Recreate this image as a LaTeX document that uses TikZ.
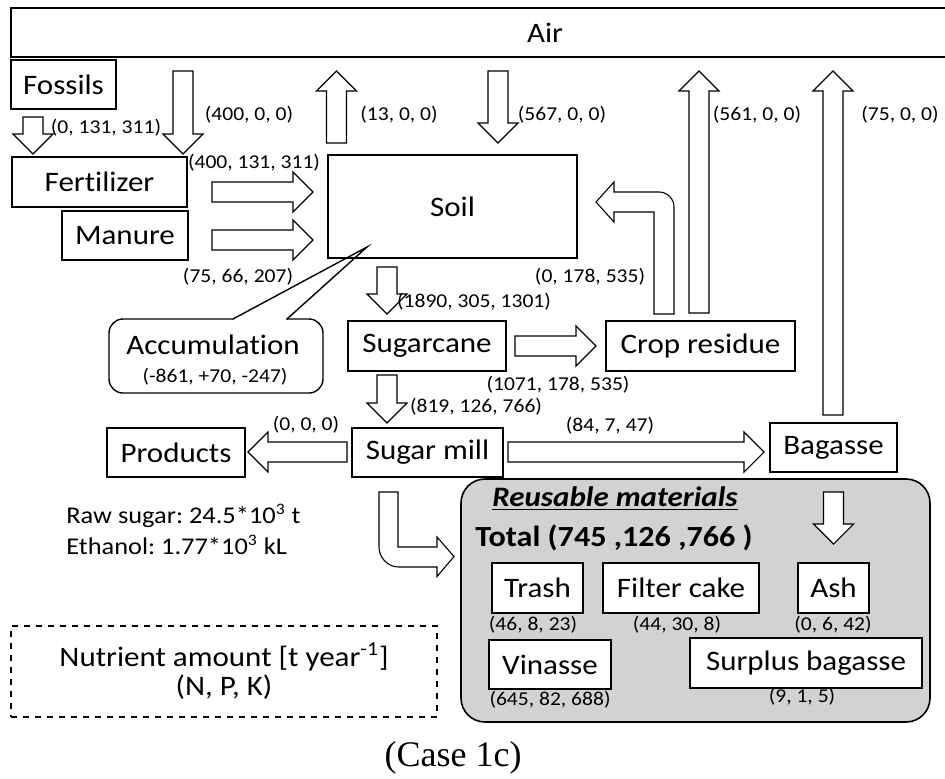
\documentclass[tikz,border=0pt]{standalone}
\usepackage{fontspec}
\setmainfont{Carlito}[FakeStretch=1.1, Ligatures=NoCommon]
\newfontfamily\capfont{Liberation Serif}
\usetikzlibrary{calc}
\frenchspacing

\definecolor{reusegray}{RGB}{210,210,210}
\newcommand{\mainsize}{\fontsize{14.1}{16}\selectfont}
\newcommand{\smallsize}{\fontsize{9.8}{11}\selectfont}

\tikzset{
  box/.style={draw, line width=0.7pt, inner sep=0pt, font=\mainsize},
  sz/.style 2 args={minimum width=#1*0.5pt, minimum height=#2*0.5pt},
  lbl/.style={inner sep=0pt, font=\smallsize},
  barrow/.style={draw, fill=white, line width=0.55pt, line join=miter},
}

% 空心箭头: 起点 -> 箭尖
\newcommand{\barrow}[2]{%
  \coordinate (bh) at ($(#2)!10pt!(#1)$);
  \draw[barrow] ($(#1)!5pt!90:(#2)$) -- ($(bh)!5pt!90:(#2)$) -- ($(bh)!10pt!90:(#2)$) -- (#2)
    -- ($(bh)!10pt!-90:(#2)$) -- ($(bh)!5pt!-90:(#2)$) -- ($(#1)!5pt!-90:(#2)$) -- cycle;}

\begin{document}
\begin{tikzpicture}[x=0.5pt, y=-0.5pt]
    \useasboundingbox (0,0) rectangle (945,778);
    \clip (0,0) rectangle (945,778);
    % 方框
    \node[box, sz={1068}{49}] (air) at (545,32.5) {Air};
    \node[box, sz={105}{49}] (fossils) at (63.5,84.5) {Fossils};
    \node[box, sz={175}{50}] (fert) at (99.5,182) {Fertilizer};
    \node[box, sz={126}{49}] (manure) at (125,235.5) {Manure};
    \node[box, sz={249}{103}] (soil) at (452.5,206.5) {Soil};
    \node[box, sz={158}{50}] (cane) at (427,346) {Sugarcane};
    \node[box, sz={189}{50}] (crop) at (700.5,346) {Crop residue};
    \node[box, sz={138}{49}] (products) at (176,452.5) {Products};
    \node[box, sz={151}{49}] (mill) at (427.5,452.5) {Sugar mill};
    \node[box, sz={127}{49}] (bagasse) at (833.5,447.5) {Bagasse};
    % 累积 (对话框)
    \node[box, rounded corners=7pt, sz={214}{74}] (acc) at (216,356) {};
    \node[inner sep=0pt, font=\mainsize] (acc-t) at (213,345) {Accumulation};
    \node[lbl] (acc-v) at (215,377) {(-861, +70, -247)};
    \coordinate (acc-tip) at (367,247);
    \fill[white] (234,317) rectangle (286,321);
    \draw[line width=0.7pt] (233,319) -- (acc-tip) -- (287,319);
    % 可再利用物质
    \node[box, line width=0.8pt, fill=reusegray, rounded corners=12pt, sz={469}{243}] (reuse) at (695.5,600.5) {};
    \node[inner sep=0pt, font=\fontsize{14.1}{16}\selectfont\bfseries\itshape] (reuse-t) at (615,499) {\underline{Reusable materials}};
    \node[inner sep=0pt, font=\fontsize{14.6}{16}\selectfont\bfseries] (total) at (614,538) {Total (745 ,126 ,766 )};
    \node[box, fill=white, sz={91}{50}] (trash) at (537.5,588) {Trash};
    \node[box, fill=white, sz={156}{50}] (filter) at (681,588) {Filter cake};
    \node[box, fill=white, sz={71}{50}] (ash) at (833.5,588) {Ash};
    \node[box, fill=white, sz={122}{49}] (vinasse) at (550,664.5) {Vinasse};
    \node[box, fill=white, sz={232}{50}] (surplus) at (806,663) {Surplus bagasse};
    \node[lbl] (l-trash) at (533,625) {(46, 8, 23)};
    \node[lbl] (l-filter) at (677,625) {(44, 30, 8)};
    \node[lbl] (l-ash) at (833,625) {(0, 6, 42)};
    \node[lbl] (l-vin) at (550,700) {(645, 82, 688)};
    \node[lbl] (l-sur) at (802,697) {(9, 1, 5)};
    % 箭头端点
    \coordinate (fos-s) at (33,117);    \coordinate (fos-t) at (33,154);
    \coordinate (af-s) at (183,71);     \coordinate (af-t) at (183,154);
    \coordinate (sa-s) at (336.5,143);  \coordinate (sa-t) at (336.5,71);
    \coordinate (as-s) at (498,71);     \coordinate (as-t) at (498,143);
    \coordinate (ca-s) at (699,313);    \coordinate (ca-t) at (699,71);
    \coordinate (ba-s) at (833,415);    \coordinate (ba-t) at (833,71);
    \coordinate (fs-s) at (212,192);    \coordinate (fs-t) at (313,192);
    \coordinate (ms-s) at (212,240);    \coordinate (ms-t) at (313,240);
    \coordinate (sc-s) at (387,267);    \coordinate (sc-t) at (387,314);
    \coordinate (cc-s) at (515,346);    \coordinate (cc-t) at (596,346);
    \coordinate (cm-s) at (387,375);    \coordinate (cm-t) at (387,423);
    \coordinate (mp-s) at (347,452);    \coordinate (mp-t) at (248,452);
    \coordinate (mb-s) at (508,452);    \coordinate (mb-t) at (764,452);
    \coordinate (bash-s) at (833.5,492); \coordinate (bash-t) at (833.5,544);
    % 箭头
    \barrow{fos-s}{fos-t}
    \barrow{af-s}{af-t}
    \barrow{sa-s}{sa-t}
    \barrow{as-s}{as-t}
    \barrow{ca-s}{ca-t}
    \barrow{ba-s}{ba-t}
    \barrow{fs-s}{fs-t}
    \barrow{ms-s}{ms-t}
    \barrow{sc-s}{sc-t}
    \barrow{cc-s}{cc-t}
    \barrow{cm-s}{cm-t}
    \barrow{mp-s}{mp-t}
    \barrow{mb-s}{mb-t}
    \barrow{bash-s}{bash-t}
    % 弯箭头
    \draw[barrow] (654,314) -- (654,212) -- (614,212) -- (614,222) -- (596,202) -- (614,182) -- (614,192)
      -- (659,192) .. controls (667.3,192) and (674,198.7) .. (674,207) -- (674,314) -- cycle;
    \draw[barrow] (379,492) -- (379,547) .. controls (379,558) and (388,567) .. (399,567) -- (437,567)
      -- (437,576.5) -- (454,556.5) -- (437,537) -- (437,547) -- (398,547) -- (398,492) -- cycle;
    % 流量
    \node[lbl] (l-fos) at (106,128) {(0, 131, 311)};
    \node[lbl] (l-af) at (249,115) {(400, 0, 0)};
    \node[lbl] (l-sa) at (399,115) {(13, 0, 0)};
    \node[lbl] (l-as) at (562,115) {(567, 0, 0)};
    \node[lbl] (l-ca) at (757,115) {(561, 0, 0)};
    \node[lbl] (l-ba) at (900,115) {(75, 0, 0)};
    \node[lbl] (l-fs) at (254,163) {(400, 131, 311)};
    \node[lbl] (l-ms) at (238,277) {(75, 66, 207)};
    \node[lbl] (l-cs) at (590,277) {(0, 178, 535)};
    \node[lbl] (l-sc) at (474,302) {(1890, 305, 1301)};
    \node[lbl] (l-cc) at (558,385) {(1071, 178, 535)};
    \node[lbl] (l-cm) at (476,407) {(819, 126, 766)};
    \node[lbl] (l-mp) at (306,425) {(0, 0, 0)};
    \node[lbl] (l-mb) at (610,426) {(84, 7, 47)};
    % 产品
    \node[inner sep=0pt, anchor=base west, font=\fontsize{12}{14}\selectfont] (raw) at (66,523) {Raw sugar: 24.5*10\textsuperscript{3} t};
    \node[inner sep=0pt, anchor=base west, font=\fontsize{12}{14}\selectfont] (eth) at (66,554) {Ethanol: 1.77*10\textsuperscript{3} kL};
    % 图例
    \node[draw, dashed, line width=0.6pt, sz={426}{91}, align=center, font=\fontsize{14.1}{14.8}\selectfont] (legend) at (224,671.5)
      {Nutrient amount [t year\textsuperscript{-1}]\\(N, P, K)};
    \node[inner sep=0pt, font=\capfont\fontsize{18}{20}\selectfont] (caption) at (453,758) {(Case 1c)};
\end{tikzpicture}
\end{document}
